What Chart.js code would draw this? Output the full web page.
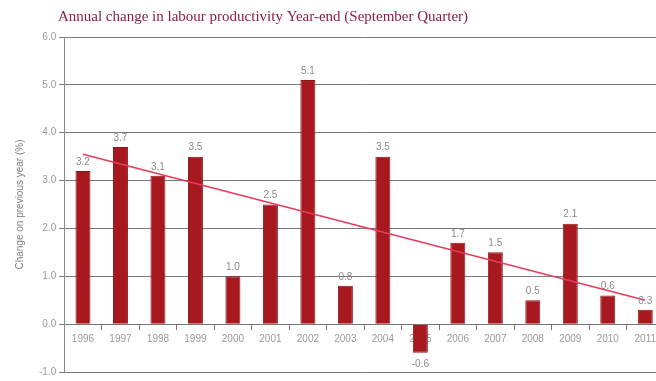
<!DOCTYPE html>
<html>
<head>
<meta charset="utf-8">
<script src="https://cdn.jsdelivr.net/npm/chart.js@4"></script>
<style>
  html, body { margin: 0; padding: 0; background: #fff; overflow: hidden; }
  #wrap { width: 656px; height: 381px; overflow: hidden; }
</style>
</head>
<body>
<div id="wrap"><canvas id="prodChart" width="690" height="381"></canvas></div>
<script>
var years = ['1996', '1997', '1998', '1999', '2000', '2001', '2002', '2003',
             '2004', '2005', '2006', '2007', '2008', '2009', '2010', '2011'];
var changes = [3.2, 3.7, 3.1, 3.5, 1.0, 2.5, 5.1, 0.8, 3.5, -0.6, 1.7, 1.5, 0.5, 2.1, 0.6, 0.3];
// trend line at both ends
var trendStart = 3.55;
var trendEnd = 0.5;
var yTicks = [-1, 0, 1, 2, 3, 4, 5, 6];

var trendData = years.map(function (y, i) {
    if (i === 0) return trendStart;
    if (i === years.length - 1) return trendEnd;
    return null;
});

var titlePlugin = {
    id: 'fixedTitle',
    afterDraw: function (chart) {
        var c = chart.ctx;
        c.save();
        c.font = '15px "Liberation Serif", "DejaVu Serif", serif';
        c.fillStyle = '#8e1c4c';
        c.textAlign = 'center';
        c.textBaseline = 'middle';
        c.fillText('Annual change in labour productivity Year-end (September Quarter)', 263, 17);
        c.restore();
    }
};

var valueLabels = {
    id: 'valueLabels',
    afterDatasetsDraw: function (chart) {
        var c = chart.ctx;
        var meta = chart.getDatasetMeta(1);
        c.save();
        c.font = '10px "Liberation Sans", Arial, sans-serif';
        c.fillStyle = '#8a8a8a';
        c.textAlign = 'center';
        meta.data.forEach(function (bar, i) {
            var v = changes[i];
            if (v >= 0) {
                c.textBaseline = 'bottom';
                c.fillText(v.toFixed(1), bar.x, bar.y - 4);
            } else {
                c.textBaseline = 'top';
                c.fillText(v.toFixed(1), bar.x, bar.y + 6);
            }
        });
        c.restore();
    }
};

var ctx = document.getElementById('prodChart').getContext('2d');

var chart = new Chart(ctx, {
    type: 'bar',
    data: {
        labels: years,
        datasets: [{
            type: 'line',
            label: 'Trend',
            data: trendData,
            borderColor: '#e63b5e',
            borderWidth: 1.5,
            pointRadius: 0,
            spanGaps: true,
            fill: false,
            order: 0
        }, {
            label: 'Change on previous year (%)',
            data: changes,
            backgroundColor: '#a8191f',
            borderColor: '#8c1318',
            borderWidth: 1,
            barPercentage: 0.4,
            categoryPercentage: 1.0,
            order: 1
        }]
    },
    plugins: [titlePlugin, valueLabels],
    options: {
        responsive: false,
        animation: false,
        layout: {
            autoPadding: false,
            padding: { top: 37, bottom: 7, left: 14, right: 26 }
        },
        scales: {
            x: {
                position: { y: 0 },
                afterFit: function (axis) { axis.height = 0; },
                grid: {
                    offset: true,
                    drawOnChartArea: false,
                    drawTicks: true,
                    tickLength: 5,
                    color: '#777'
                },
                border: { color: '#777', width: 1 },
                ticks: {
                    color: '#9a9a9a',
                    font: { size: 10, family: '"Liberation Sans", Arial, sans-serif' },
                    maxRotation: 0,
                    autoSkip: false,
                    padding: 4
                }
            },
            y: {
                min: -1,
                max: 6,
                afterBuildTicks: function (axis) {
                    axis.ticks = yTicks.map(function (v) { return { value: v }; });
                },
                grid: {
                    color: '#7a7a7a',
                    tickLength: 5
                },
                border: { color: '#888', width: 1 },
                ticks: {
                    color: '#9a9a9a',
                    font: { size: 10, family: '"Liberation Sans", Arial, sans-serif' },
                    padding: 3,
                    callback: function (v) { return Number(v).toFixed(1); }
                },
                title: {
                    display: true,
                    text: 'Change on previous year (%)',
                    color: '#808080',
                    font: { size: 10, family: '"Liberation Sans", Arial, sans-serif' },
                    padding: { top: 0, bottom: 10 }
                }
            }
        },
        plugins: {
            legend: { display: false },
            title: { display: false },
            tooltip: { enabled: false }
        }
    }
});
</script>
</body>
</html>
